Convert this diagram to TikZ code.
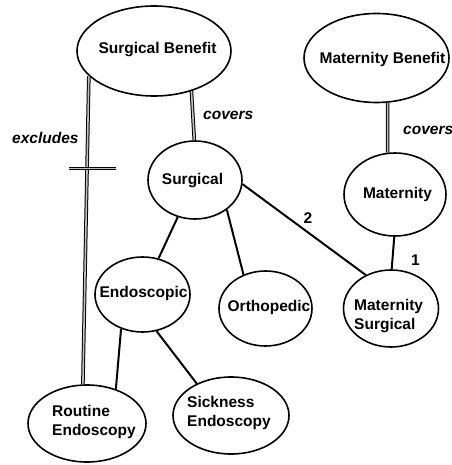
\documentclass[tikz,border=0pt]{standalone}
\usepackage{fontspec}
\setmainfont{Liberation Sans}
\usetikzlibrary{shapes.geometric,calc}
\begin{document}
\begin{tikzpicture}[x=1pt,y=-1pt,
 ell/.style={draw,ellipse,line width=1.6pt,inner sep=0pt},
 txt/.style={font=\fontsize{15.5}{19}\selectfont\bfseries,inner sep=0pt,align=left},
 lbl/.style={font=\fontsize{15.5}{19}\selectfont\bfseries\itshape,inner sep=0pt,anchor=base west},
 num/.style={font=\fontsize{15.5}{19}\selectfont\bfseries,inner sep=0pt,anchor=base},
 link/.style={line width=2pt},
 dbl/.style={line width=1pt,double=gray!50,double distance=1.6pt}]
\useasboundingbox[fill=white] (0,0) rectangle (451,465);

% ellipses
\node[ell,minimum width=154pt,minimum height=90pt] (SB) at (154,51) {};
\node[ell,minimum width=145pt,minimum height=89pt] (MB) at (376.5,58) {};
\node[ell,minimum width=94pt,minimum height=78pt] (S) at (195,180) {};
\node[ell,minimum width=102pt,minimum height=83pt] (M) at (395,194.5) {};
\node[ell,minimum width=95pt,minimum height=75pt] (E) at (142.5,294.5) {};
\node[ell,minimum width=93pt,minimum height=75pt] (O) at (265.5,308.5) {};
\node[ell,minimum width=95pt,minimum height=77pt] (MS) at (391,308.5) {};
\node[ell,minimum width=118pt,minimum height=77pt] (RE) at (87,423.5) {};
\node[ell,minimum width=116pt,minimum height=77pt] (SE) at (231,415.5) {};

% texts
\node[txt,anchor=base] (SBt) at (157.5,53.3) {Surgical Benefit};
\node[txt,anchor=base] (MBt) at (382.5,64) {Maternity Benefit};
\node[txt,anchor=base] (St) at (192.5,184) {Surgical};
\node[txt,anchor=base] (Mt) at (397.5,198.3) {Maternity};
\node[txt,anchor=base] (Et) at (143.5,297.7) {Endoscopic};
\node[txt,anchor=base] (Ot) at (269,311.7) {Orthopedic};
\node[txt,anchor=west] (MSt) at (354,315.6) {Maternity\\Surgical};
\node[txt,anchor=west] (REt) at (52,422.1) {Routine\\Endoscopy};
\node[txt,anchor=west] (SEt) at (187,413.1) {Sickness\\Endoscopy};

% connectors
\draw[dbl] (SB.-47) -- (S.91);
\draw[dbl] (SB.201) -- (RE.96) coordinate[pos=0.3] (xm);
\draw[dbl] ([xshift=-18pt]xm) -- ([xshift=29pt]xm);
\draw[dbl] (MB.-76) -- (M.100);
\draw[link] (S.245) -- (E.66);
\draw[link] (S.-43) -- (O.123);
\draw[link] (S.-5) -- (MS.127);
\draw[link] (M.-91) -- (MS.89);
\draw[link] (E.238) -- (RE.50);
\draw[link] (E.-69) -- (SE.137);

% labels
\node[lbl] (lex) at (12,143) {excludes};
\node[lbl] (lc1) at (203,120) {covers};
\node[lbl] (lc2) at (403,135) {covers};
\node[num] (n2) at (308,223) {2};
\node[num] (n1) at (415.5,265) {1};
\end{tikzpicture}
\end{document}
